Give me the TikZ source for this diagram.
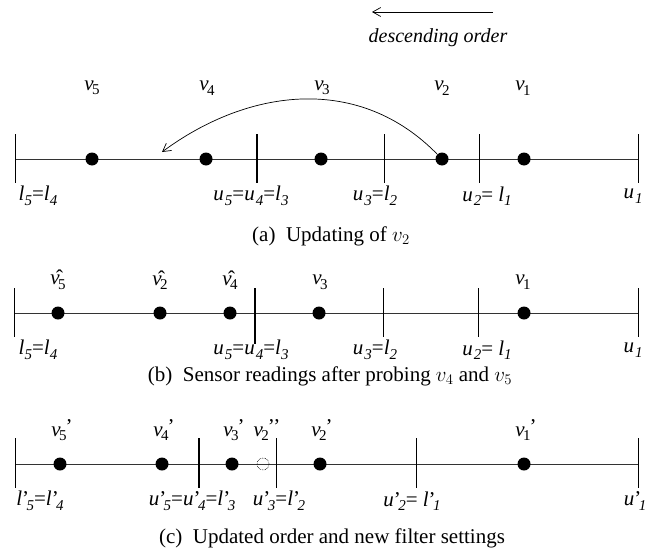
\documentclass[tikz,border=0pt]{standalone}
\usepackage{fix-cm}
\usepackage{fontspec}
\setmainfont{Liberation Serif}
\usetikzlibrary{arrows.meta}
\newcommand\lsub[1]{\raisebox{-4.5pt}{\fontsize{15}{15}\selectfont #1}}
\newcommand\vv[1]{\textit{v}\kern-1.5pt\lsub{#1}}
\newcommand\vh[1]{\^{\textit{v}}\kern-1.5pt\lsub{#1}}
\newcommand\vp[2]{\textit{v}\kern-1.5pt\lsub{#1}\kern-1pt\raisebox{3pt}{#2}}
\newcommand\il[1]{\textit{l}\lsub{\textit{#1}}}
\newcommand\iu[1]{\textit{u}\kern1pt\lsub{\textit{#1}}}
\newcommand\ilp[1]{\textit{l}’\kern-2.5pt\lsub{\textit{#1}}}
\newcommand\iup[1]{\textit{u}’\kern-2.5pt\lsub{\textit{#1}}}
\tikzset{
  axisline/.style={line width=0.9pt, draw=black!80},
  thintick/.style={line width=0.9pt},
  thicktick/.style={line width=2.4pt},
  dot/.style={circle, fill=black, inner sep=0pt, minimum size=13pt},
  ghost/.style={circle, draw, densely dotted, line width=0.6pt, inner sep=0pt, minimum size=12pt},
  lab/.style={font=\fontsize{21}{25}\selectfont, inner sep=0pt},
  captext/.style={font=\fontsize{21}{25}\selectfont, inner sep=0pt},
  arr/.style={-{Straight Barb[length=8pt,width=9pt]}, line width=0.7pt}
}
\begin{document}
\begin{tikzpicture}[x=1pt,y=-1pt]
\useasboundingbox (0,0) rectangle (658,554);
% descending order
\coordinate (dA) at (493,12);
\coordinate (dB) at (372,12);
\draw[arr] (dA) -- (dB);
\node[lab, font=\fontsize{20}{24}\selectfont\itshape] (desc) at (438,38) {descending order};

% ---------- panel (a) ----------
\coordinate (aL) at (15,159);
\coordinate (aR) at (638,159);
\draw[axisline] (aL) -- (aR);
\foreach \x in {15,384,479,638} \draw[thintick] (\x,134) -- (\x,183);
\draw[thicktick] (257,134) -- (257,183);
\node[dot] (a5) at (92,159) {};
\node[dot] (a4) at (206,159) {};
\node[dot] (a3) at (321,159) {};
\node[dot] (a2) at (442,159) {};
\node[dot] (a1) at (524,159) {};
\node[lab] (la5) at (92,88) {\vv{5}};
\node[lab] (la4) at (207,88) {\vv{4}};
\node[lab] (la3) at (322,88) {\vv{3}};
\node[lab] (la2) at (442,88) {\vv{2}};
\node[lab] (la1) at (523,88) {\vv{1}};
\node[lab] (ba1) at (38,196) {\il{5}=\il{4}};
\node[lab] (ba2) at (251,196) {\iu{5}=\iu{4}=\il{3}};
\node[lab] (ba3) at (375,196) {\iu{3}=\il{2}};
\node[lab] (ba4) at (487,196) {\iu{2}= \il{1}};
\node[lab] (ba5) at (633,196) {\iu{1}};
\coordinate (tipA) at (162,152);
\draw[arr] (a2.north west) .. controls (360,75) and (250,87) .. (tipA);
\node[captext] (capa) at (331,236) {(a)\ \ Updating of $v_2$};

% ---------- panel (b) ----------
\coordinate (bL) at (14,313);
\coordinate (bR) at (638,313);
\draw[axisline] (bL) -- (bR);
\foreach \x in {14,383,478,638} \draw[thintick] (\x,288) -- (\x,337);
\draw[thicktick] (255,288) -- (255,344);
\node[dot] (b5) at (58,313) {};
\node[dot] (b2) at (160,313) {};
\node[dot] (b4) at (230,313) {};
\node[dot] (b3) at (319,313) {};
\node[dot] (b1) at (524,313) {};
\node[lab] (lb5) at (58,280) {\vh{5}};
\node[lab] (lb2) at (160,280) {\vh{2}};
\node[lab] (lb4) at (230,280) {\vh{4}};
\node[lab] (lb3) at (320,282) {\vv{3}};
\node[lab] (lb1) at (523,282) {\vv{1}};
\node[lab] (bb1) at (38,350) {\il{5}=\il{4}};
\node[lab] (bb2) at (251,350) {\iu{5}=\iu{4}=\il{3}};
\node[lab] (bb3) at (375,350) {\iu{3}=\il{2}};
\node[lab] (bb4) at (487,350) {\iu{2}= \il{1}};
\node[lab] (bb5) at (633,350) {\iu{1}};
\node[captext] (capb) at (330,376) {(b)\ \ Sensor readings after probing $v_4$ and $v_5$};

% ---------- panel (c) ----------
\coordinate (cL) at (15,464);
\coordinate (cR) at (638,464);
\draw[axisline] (cL) -- (cR);
\foreach \x in {15,276,416,638} \draw[thintick] (\x,438) -- (\x,488);
\draw[thicktick] (199,438) -- (199,488);
\node[dot] (c5) at (60,464) {};
\node[dot] (c4) at (162,464) {};
\node[dot] (c3) at (232,464) {};
\node[ghost] (c2g) at (263,464) {};
\node[dot] (c2) at (320,464) {};
\node[dot] (c1) at (524,464) {};
\node[lab] (lc5) at (62,430) {\vp{5}{’}};
\node[lab] (lc4) at (164,430) {\vp{4}{’}};
\node[lab] (lc3) at (234,430) {\vp{3}{’}};
\node[lab] (lc2g) at (267,430) {\vp{2}{’’}};
\node[lab] (lc2) at (322,430) {\vp{2}{’}};
\node[lab] (lc1) at (526,430) {\vp{1}{’}};
\node[lab] (bc1) at (40,501) {\ilp{5}=\ilp{4}};
\node[lab] (bc2) at (192,501) {\iup{5}=\iup{4}=\ilp{3}};
\node[lab] (bc3) at (279,501) {\iup{3}=\ilp{2}};
\node[lab] (bc4) at (412,501) {\iup{2}= \ilp{1}};
\node[lab] (bc5) at (635,501) {\iup{1}};
\node[captext] (capc) at (332,538) {(c)\ \ Updated order and new filter settings};
\end{tikzpicture}
\end{document}
